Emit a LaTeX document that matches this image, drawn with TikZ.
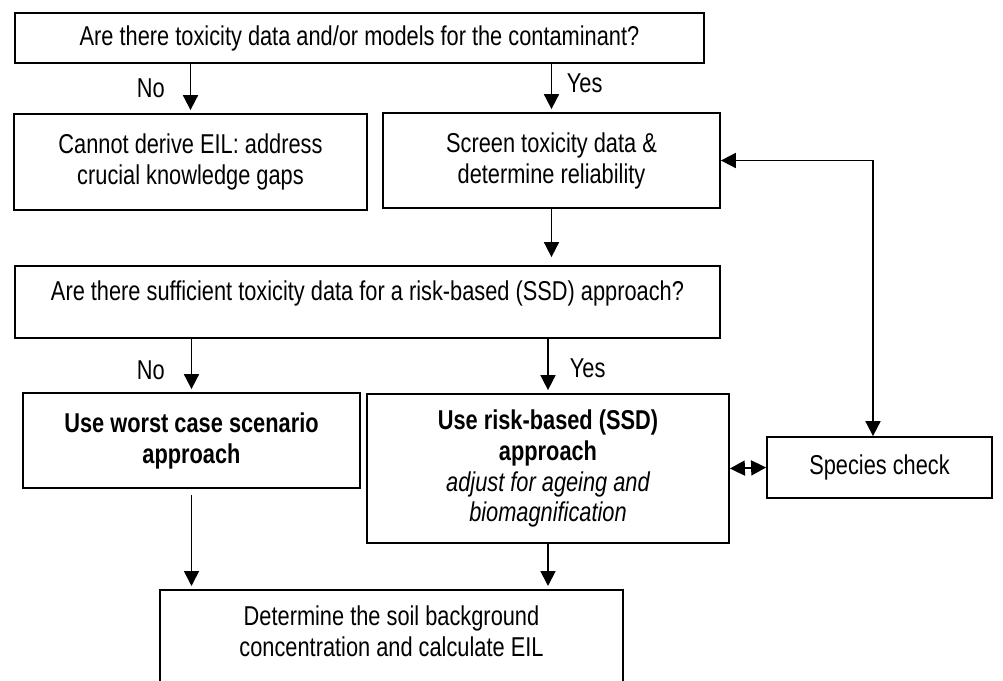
\documentclass[tikz,border=0pt]{standalone}
\usepackage{fontspec}
\setmainfont{Liberation Sans}[FakeStretch=0.80]
\usetikzlibrary{arrows.meta,positioning}

\begin{document}
\begin{tikzpicture}[
  x=0.2mm, y=-0.2mm,
  >={Triangle[length=3mm,width=3mm]},
  box/.style={draw, line width=1pt, align=center, inner sep=2pt, font=\fontsize{15.5pt}{17.6pt}\selectfont},
  answer/.style={inner sep=0pt, font=\fontsize{15.5pt}{17.6pt}\selectfont},
  flow/.style={->, line width=1pt, shorten >=0.6mm},
  twoway/.style={<->, line width=1pt}
]
\useasboundingbox (0,0) rectangle (1003,681);

% Row 1: first question and its two outcomes
\node[box, minimum width=137.8mm, minimum height=10mm] (data) at (359.5,38)
  {Are there toxicity data and/or models for the contaminant?};
\node[box, minimum width=70.6mm, minimum height=19.2mm] (nogo) at (190.5,162)
  {Cannot derive EIL: address\\crucial knowledge gaps};
\node[box, minimum width=67.4mm, minimum height=19mm] (screen) at (551.5,160.5)
  {Screen toxicity data \&\\determine reliability};

\draw[flow] (nogo.north |- data.south) -- node[answer, left=5mm] {No} (nogo.north);
\draw[flow] (screen.north |- data.south) -- node[answer, right=2.9mm, yshift=1mm] {Yes} (screen.north);

% Row 2: second question
\node[box, minimum width=141mm, minimum height=14.4mm, text depth=13pt] (enough) at (367.5,302)
  {Are there sufficient toxicity data for a risk-based (SSD) approach?};
\node[box, minimum width=67.4mm, minimum height=19mm] (worst) at (191.5,440.5)
  {\bfseries Use worst case scenario\\\bfseries approach};
\node[box, minimum width=72.4mm, minimum height=29.8mm] (risk) at (548,468.5)
  {\bfseries Use risk-based (SSD)\\\bfseries approach\\\itshape adjust for ageing and\\\itshape biomagnification};
\node[box, minimum width=45mm, minimum height=12.2mm] (species) at (879.5,467.5)
  {Species check};

\draw[flow, shorten >=1.6mm] (screen.south) -- (screen.south |- enough.north);
\draw[flow] (worst.north |- enough.south) -- node[answer, left=5.2mm, yshift=-0.9mm] {No} (worst.north);
\draw[flow] (risk.north |- enough.south) -- node[answer, right=4.2mm, yshift=-0.5mm] {Yes} (risk.north);
\draw[twoway] (risk.east) -- (species.west);
\draw[twoway] (screen.east) -| ([xshift=-1.3mm]species.north);

% Row 3: final step (runs off the page)
\node[box, anchor=north, minimum width=92.6mm, minimum height=24mm, text depth=21pt] (final) at (391.5,589)
  {Determine the soil background\\concentration and calculate EIL};

\draw[flow, shorten <=1.2mm] (worst.south) -- (worst.south |- final.north);
\draw[flow] (risk.south) -- (risk.south |- final.north);
\end{tikzpicture}
\end{document}
